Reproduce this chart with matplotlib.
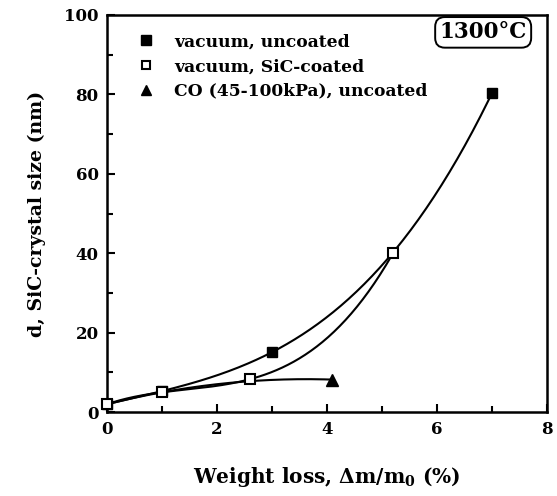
import numpy as np
import matplotlib
matplotlib.use("Agg")
import matplotlib.pyplot as plt

plt.rcParams['font.family'] = 'DejaVu Serif'
plt.rcParams['font.weight'] = 'bold'
plt.rcParams['axes.labelweight'] = 'bold'
plt.rcParams['mathtext.fontset'] = 'custom'
plt.rcParams['mathtext.rm'] = 'DejaVu Serif:bold'
plt.rcParams['mathtext.it'] = 'DejaVu Serif:bold'
plt.rcParams['mathtext.bf'] = 'DejaVu Serif:bold'

# data
x_unc = [0, 1, 3, 7]
d_unc = [2.0, 5.3, 15.1, 80.3]
x_coat = [0, 1, 2.6, 5.2]
d_coat = [2.0, 5.0, 8.3, 40.0]
x_co = [0, 1, 4.1]
d_co = [2.0, 5.0, 8.2]
labels = ['vacuum, uncoated', 'vacuum, SiC-coated', 'CO (45-100kPa), uncoated']

fig = plt.figure(figsize=(5.57, 4.96), dpi=100)
ax = fig.add_axes([0.192, 0.169, 0.790, 0.801])

# smooth curves through the points (hand-drawn fits in the original)
for xs, ys, deg in [(x_unc, d_unc, 3), (x_coat, d_coat, 3), (x_co, d_co, 2)]:
    p = np.polyfit(xs, ys, deg)
    xx = np.linspace(xs[0], xs[-1], 200)
    ax.plot(xx, np.polyval(p, xx), color='black', lw=1.5, zorder=2)

h1, = ax.plot(x_unc, d_unc, ls='none', marker='s', ms=7.8, mfc='black', mec='black', mew=1, zorder=3)
h3, = ax.plot(x_co[-1:], d_co[-1:], ls='none', marker='^', ms=8.5, mfc='black', mec='black', mew=1, zorder=3)
h2, = ax.plot(x_coat, d_coat, ls='none', marker='s', ms=7.5, mfc='white', mec='black', mew=1.5, zorder=4)
for h in (h1, h2, h3):
    h.set_clip_on(False)

leg = ax.legend([h1, h2, h3], labels, loc='upper left', bbox_to_anchor=(0.035, 0.992),
                frameon=False, fontsize=12.3, handlelength=1.0, handletextpad=1.15,
                labelspacing=0.45, markerscale=0.85)

ax.text(0.855, 0.956, '1300°C', transform=ax.transAxes, ha='center', va='center',
        fontsize=15.5, bbox=dict(boxstyle='round,pad=0.2,rounding_size=0.45', fc='white', ec='black', lw=1.4))

ax.set_xlim(0, 8)
ax.set_ylim(0, 100)
ax.set_xticks([0, 2, 4, 6, 8])
ax.set_xticks([1, 3, 5, 7], minor=True)
ax.set_yticks([0, 20, 40, 60, 80, 100])
ax.set_yticks([10, 30, 50, 70, 90], minor=True)
ax.tick_params(which='both', direction='in', labelsize=12, width=1.5)
ax.tick_params(which='major', length=6, pad=6)
ax.tick_params(which='minor', length=4)
for s in ax.spines.values():
    s.set_linewidth(1.8)

ax.set_xlabel('Weight loss, Δm/m$_0$ (%)', fontsize=14.5, labelpad=20)
ax.set_ylabel('d, SiC-crystal size (nm)', fontsize=13.6, labelpad=13)

fig.savefig('out.png', dpi=100)
